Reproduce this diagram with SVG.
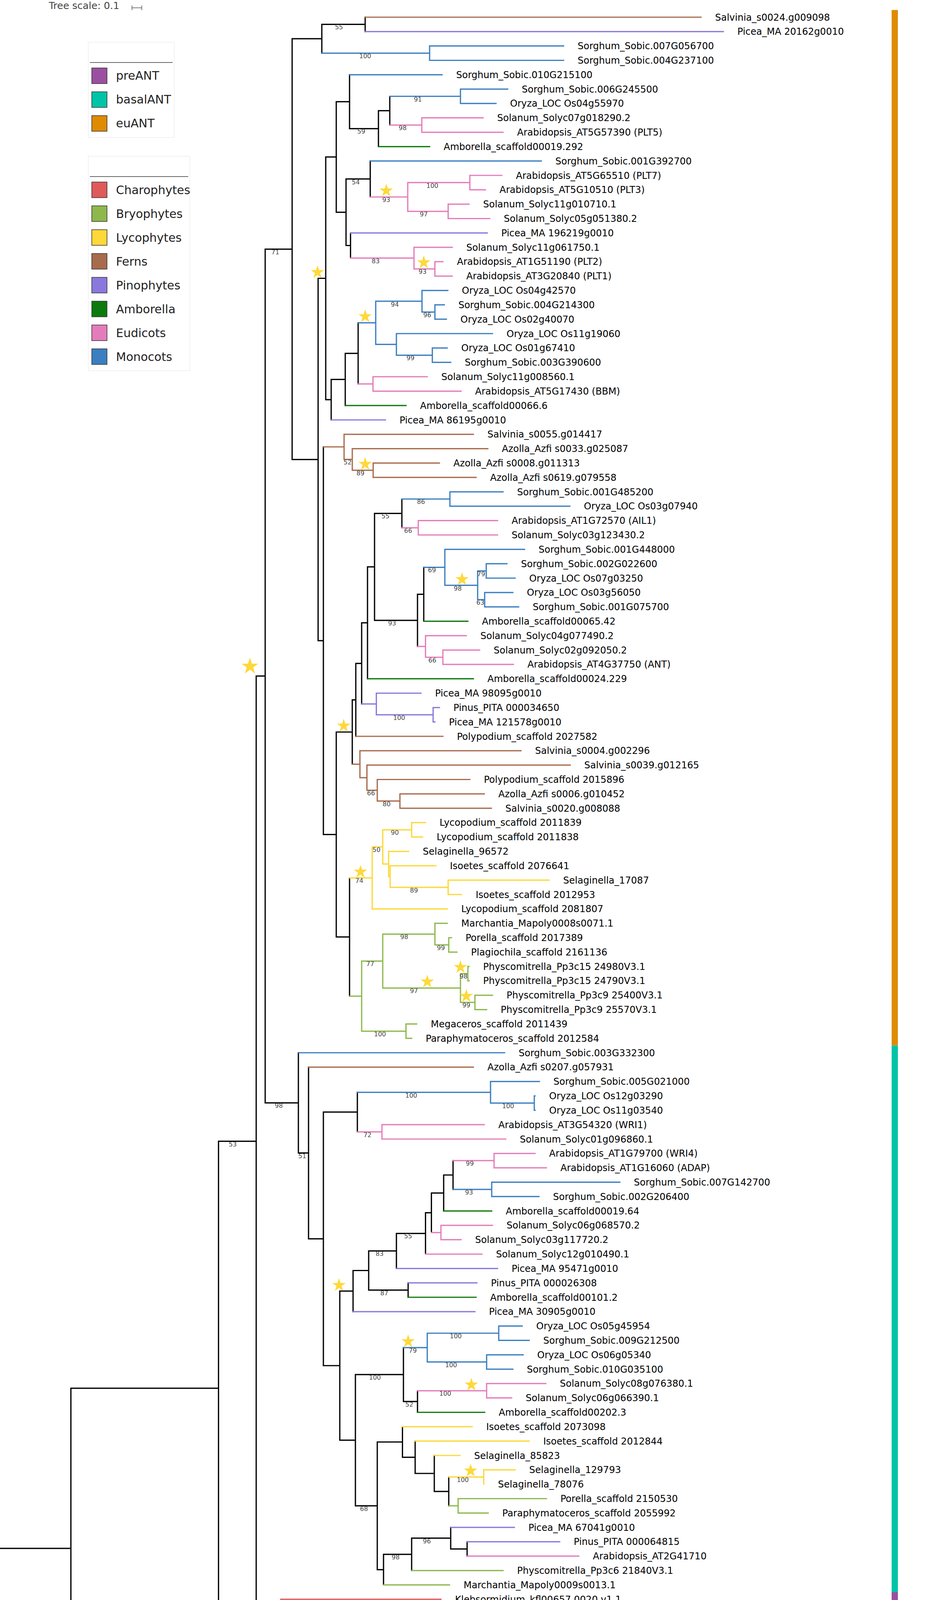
<svg xmlns="http://www.w3.org/2000/svg" xmlns:xlink="http://www.w3.org/1999/xlink" width="2371" height="4590" viewBox="0 0 2371 4590">
<style>
.b{fill:none;stroke-width:3.2;stroke-linecap:square}
.k{stroke:#000}.fe{stroke:#a86b4c}.pi{stroke:#8a78dc}.mo{stroke:#3b7fc0}.eu{stroke:#e47cbb}.am{stroke:#0c7a0c}.ly{stroke:#fcd838}.br{stroke:#8eb84c}.ch{stroke:#e05a5a}
.lab{font-family:"DejaVu Sans",Verdana,sans-serif;font-size:24px;fill:#000}
.bs{font-family:"DejaVu Sans",Verdana,sans-serif;font-size:16px;fill:#444;text-anchor:middle}
.lg{font-family:"DejaVu Sans",Verdana,sans-serif;font-size:30px;fill:#222}
.sq{stroke:#333;stroke-width:1.5}
.st{fill:#ffd83a}
</style>
<defs>
<path id="star" d="M0,-18 L4.04,-5.56 L17.12,-5.56 L6.54,2.13 L10.58,14.56 L0,6.88 L-10.58,14.56 L-6.54,2.13 L-17.12,-5.56 L-4.04,-5.56 Z"/>
</defs>
<rect width="2371" height="4590" fill="#fff"/>
<g id="tree-scale">
<text x="125" y="23" font-family="DejaVu Sans,Verdana,sans-serif" font-size="25" fill="#444">Tree scale: 0.1</text>
<path d="M338 20H363 M338 14V26 M363 14V26" stroke="#555" stroke-width="1.5" fill="none"/>
</g>
<g id="legend-clade">
<rect x="226" y="108" width="220" height="244" fill="#fff" stroke="#eee" stroke-width="1.5"/>
<path d="M230 160H442" stroke="#666" stroke-width="2"/>
<rect class="sq" x="235" y="174" width="39" height="40" fill="#9b4fa0"/><text class="lg" x="297" y="204">preANT</text>
<rect class="sq" x="235" y="235" width="39" height="40" fill="#00c4a7"/><text class="lg" x="297" y="265">basalANT</text>
<rect class="sq" x="235" y="296" width="39" height="40" fill="#df8b00"/><text class="lg" x="297" y="326">euANT</text>
</g>
<g id="legend-taxa">
<rect x="226" y="400" width="260" height="549" fill="#fff" stroke="#eee" stroke-width="1.5"/>
<path d="M230 452H482" stroke="#666" stroke-width="2"/>
<rect class="sq" x="235" y="466" width="39" height="40" fill="#e05a5a"/><text class="lg" x="297" y="497">Charophytes</text>
<rect class="sq" x="235" y="527" width="39" height="40" fill="#8eb84c"/><text class="lg" x="297" y="558">Bryophytes</text>
<rect class="sq" x="235" y="588" width="39" height="40" fill="#fcd838"/><text class="lg" x="297" y="619">Lycophytes</text>
<rect class="sq" x="235" y="649" width="39" height="40" fill="#a86b4c"/><text class="lg" x="297" y="680">Ferns</text>
<rect class="sq" x="235" y="710" width="39" height="40" fill="#8a78dc"/><text class="lg" x="297" y="741">Pinophytes</text>
<rect class="sq" x="235" y="771" width="39" height="40" fill="#0c7a0c"/><text class="lg" x="297" y="802">Amborella</text>
<rect class="sq" x="235" y="832" width="39" height="40" fill="#e47cbb"/><text class="lg" x="297" y="863">Eudicots</text>
<rect class="sq" x="235" y="893" width="39" height="40" fill="#3b7fc0"/><text class="lg" x="297" y="924">Monocots</text>
</g>
<g id="clade-strip">
<rect x="2283" y="25.6" width="16" height="2651" fill="#df8b00"/>
<rect x="2283" y="2676.6" width="16" height="1399.4" fill="#00c4a7"/>
<rect x="2283" y="4076" width="16" height="73.4" fill="#9b4fa0"/>
</g>
<g id="connectors">
<path class="b k" d="M0 3963.85H181.5 M181.5 3553.9V4373.8 M181.5 3553.9H559.5 M181.5 4373.8H559.5 M559.5 2921.6V4186.25 M559.5 2921.6H656 M559.5 4186.25H658 M658 4167.8V4204.7 M658 4204.7H1149 M656 1730.6V4112.6 M656 1730.6H679 M679 637.8V2823.35 M679 637.8H748 M679 2823.35H764 M748 99.2V1176.35 M748 99.2H824 M748 1176.35H814.5 M824 62.4V136.05 M824 62.4H935 M935 44V80.8 M814.5 712.5V1640.2 M814.5 712.5H834 M814.5 1640.2H828 M834 401.8V1023.2 M834 401.8H861 M834 1023.2H848 M861 260.3V543.35 M861 260.3H895 M861 543.35H886 M895 191.3V329.35 M895 329.35H969 M969 283.3V375.4 M969 283.3H998 M998 246.5V320.15 M886 458.2V628.5 M886 458.2H948 M886 628.5H897.5 M948 412.2V504.25 M897.5 596.3V660.7 M848 971.4V1075 M848 971.4H884 M884 904.65V1038.1 M884 904.65H917 M917 826.4V982.9 M828 1144V2136.35 M828 2136.35H861 M861 1874V2398.7 M861 1874H902 M861 2398.7H895 M902 1791.65V1956.3 M902 1791.65H911 M911 1698.3V1885 M911 1698.3H926 M926 1594.45V1802.15 M926 1594.45H941 M941 1451.2V1737.7 M941 1451.2H959 M959 1314.3V1588.15 M959 1314.3H1029 M959 1588.15H1069 M1029 1277.5V1351.1 M1069 1521.4V1654.9 M1069 1521.4H1085 M1085 1452.35V1590.4 M895 2247.4V2550.05 M764 2695V2951.7 M764 2951.7H790 M790 2731.9V3171.45 M790 3171.45H828 M828 2846.9V3496 M828 2846.9H915 M828 3496H870 M915 2796.3V2897.55 M870 3305.15V3686.9 M870 3305.15H904 M870 3686.9H910 M904 3252.5V3357.8 M904 3252.5H944 M944 3202.45V3302.6 M944 3202.45H1015 M944 3302.6H1045 M1015 3157.6V3247.3 M1015 3157.6H1089.5 M1089.5 3104.7V3210.5 M1089.5 3104.7H1104.6 M1104.6 3054.05V3155.3 M1104.6 3054.05H1136 M1136 3008V3100.1 M1136 3008H1160 M1160 2971.2V3044.8 M1045 3284.2V3321 M910 3518.9V3854.9 M910 3518.9H1033 M910 3854.9H966 M1033 3449.85V3587.9 M1033 3587.9H1069 M1069 3560.3V3615.5 M966 3691.5V4018.3 M966 3691.5H1030.5 M966 4018.3H982 M1030.5 3652.4V3730.6 M1030.5 3730.6H1063 M1063 3689.2V3772 M1063 3772H1112 M1112 3726V3818.05 M1112 3818.05H1149 M1149 3781.2V3854.9 M982 3979.15V4057.4 M982 3979.15H1054 M1054 3937.7V4020.6 M1054 3937.7H1154 M1154 3910.1V3965.3 M1154 3965.3H1196 M1196 3946.9V3983.7 M559.5 4276V4471.6 M559.5 4276H612 M559.5 4471.6H630.6 M612 4241.5V4310.5 M612 4241.5H744 M612 4310.5H665 M665 4278.3V4342.7 M665 4278.3H786 M665 4342.7H703 M703 4315.1V4370.35 M703 4315.1H759 M703 4370.35H723 M723 4351.9V4388.8 M723 4351.9H782 M723 4388.8H794 M630.6 4425.6V4517.6 M630.6 4425.6H851 M630.6 4517.6H665 M665 4480.8V4554.45 M665 4480.8H859 M665 4554.45H832 M859 4462.4V4499.2 M859 4462.4H877 M859 4499.2H885 M832 4536V4572.9 M832 4536H847 M832 4572.9H854"/>
<path class="b ch" d="M658 4167.8H1060 M656 4112.6H719 M719 4094.2V4131 M719 4094.2H1129 M719 4131H1156"/>
<path class="b fe" d="M935 44H1795 M828 1144H881 M881 1111.8V1176.2 M881 1111.8H1212 M881 1176.2H902 M902 1148.6V1203.8 M902 1148.6H1249 M902 1203.8H955.5 M955.5 1185.4V1222.2 M955.5 1185.4H1125 M955.5 1222.2H1219 M902 1956.3H921.6 M911 1885H1134 M921.6 1921.8V1990.85 M921.6 1921.8H1334 M921.6 1990.85H939.5 M939.5 1958.6V2023.1 M939.5 1958.6H1460 M939.5 2023.1H966 M966 1995.5V2050.7 M966 1995.5H1203 M966 2050.7H1024 M1024 2032.3V2069.1 M1024 2032.3H1240 M1024 2069.1H1258 M790 2731.9H1212"/>
<path class="b pi" d="M935 80.8H1852 M897.5 596.3H1247.5 M848 1075H987 M926 1802.15H963.6 M963.6 1774.5V1829.8 M963.6 1774.5H1078 M963.6 1829.8H1109 M1109 1811.4V1848.2 M1109 1811.4H1125 M1109 1848.2H1113.6 M904 3357.8H1216 M1015 3247.3H1274 M1045 3284.2H1221 M1154 3910.1H1317 M1196 3946.9H1433"/>
<path class="b mo" d="M824 136.05H1100 M1100 117.6V154.5 M1100 117.6H1443 M1100 154.5H1443 M895 191.3H1132 M998 246.5H1179 M1179 228.1V264.9 M1179 228.1H1300 M1179 264.9H1270 M948 412.2H1386 M917 826.4H962 M962 771.2V881.65 M962 771.2H1080.5 M962 881.65H1015 M1080.5 743.6V798.8 M1080.5 743.6H1146.6 M1080.5 798.8H1113.6 M1113.6 780.4V817.2 M1113.6 780.4H1137.7 M1113.6 817.2H1143 M1015 854V909.3 M1015 854H1261 M1015 909.3H1107 M1107 890.9V927.7 M1107 890.9H1145 M1107 927.7H1154 M1029 1277.5H1152 M1152 1259.1V1295.9 M1152 1259.1H1288 M1152 1295.9H1459 M1085 1452.35H1139 M1139 1406.3V1498.4 M1139 1406.3H1343 M1139 1498.4H1223 M1223 1461.6V1535.2 M1223 1461.6H1245 M1223 1535.2H1241 M1245 1443.2V1480 M1245 1443.2H1298 M1245 1480H1319 M1241 1516.8V1553.6 M1241 1516.8H1313 M1241 1553.6H1328 M764 2695H1292 M915 2796.3H1256 M1256 2768.7V2823.9 M1256 2768.7H1381 M1256 2823.9H1368 M1368 2805.5V2842.3 M1368 2805.5H1370 M1368 2842.3H1370 M1160 3044.8H1259 M1259 3026.4V3063.2 M1259 3026.4H1587 M1259 3063.2H1380 M1033 3449.85H1094 M1094 3413V3486.7 M1094 3413H1277 M1094 3486.7H1246 M1277 3394.6V3431.4 M1277 3394.6H1337 M1277 3431.4H1355 M1246 3468.3V3505.1 M1246 3468.3H1339.5 M1246 3505.1H1313"/>
<path class="b eu" d="M998 320.15H1080 M1080 301.7V338.6 M1080 301.7H1237 M1080 338.6H1288 M948 504.25H1044 M1044 467.4V541.1 M1044 467.4H1203 M1044 541.1H1147.5 M1203 449V485.8 M1203 449H1285 M1203 485.8H1243 M1147.5 522.7V559.5 M1147.5 522.7H1201 M1147.5 559.5H1254 M897.5 660.7H1060 M1060 633.1V688.35 M1060 633.1H1158 M1060 688.35H1113.5 M1113.5 669.9V706.8 M1113.5 669.9H1134 M1113.5 706.8H1158 M917 982.9H955 M955 964.5V1001.3 M955 964.5H1094 M955 1001.3H1180.5 M1029 1351.1H1071 M1071 1332.7V1369.5 M1071 1332.7H1274 M1071 1369.5H1274 M1069 1654.9H1089.5 M1089.5 1627.3V1682.5 M1089.5 1627.3H1194 M1089.5 1682.5H1134 M1134 1664.1V1700.9 M1134 1664.1H1228 M1134 1700.9H1314.5 M915 2897.55H978 M978 2879.1V2916 M978 2879.1H1240 M978 2916H1295 M1160 2971.2H1265 M1265 2952.8V2989.6 M1265 2952.8H1370 M1265 2989.6H1399 M1104.6 3155.3H1129 M1129 3136.9V3173.7 M1129 3136.9H1261 M1129 3173.7H1180.5 M1089.5 3210.5H1234 M1069 3560.3H1246 M1246 3541.9V3578.7 M1246 3541.9H1397.5 M1246 3578.7H1310 M1196 3983.7H1482"/>
<path class="b am" d="M969 375.4H1100 M884 1038.1H1039.5 M941 1737.7H1212 M1085 1590.4H1198 M1136 3100.1H1259 M1045 3321H1219 M1069 3615.5H1241"/>
<path class="b ly" d="M895 2247.4H953 M953 2168.05V2326.8 M953 2168.05H980 M953 2326.8H1145 M980 2124.3V2211.8 M980 2124.3H1054 M980 2211.8H995 M1054 2105.9V2142.7 M1054 2105.9H1089.5 M1054 2142.7H1082 M995 2179.6V2244 M995 2179.6H1046.6 M995 2244H999 M999 2216.4V2271.6 M999 2216.4H1116 M999 2271.6H1147.5 M1147.5 2253.2V2290 M1147.5 2253.2H1406 M1147.5 2290H1182 M1030.5 3652.4H1209 M1063 3689.2H1355 M1112 3726H1178 M1149 3781.2H1238.6 M1238.6 3762.8V3799.6 M1238.6 3762.8H1319"/>
<path class="b br" d="M895 2550.05H926 M926 2460.3V2639.8 M926 2460.3H980 M926 2639.8H1039.5 M980 2391.3V2529.35 M980 2391.3H1113.6 M980 2529.35H1179 M1113.6 2363.7V2418.9 M1113.6 2363.7H1145 M1113.6 2418.9H1149 M1149 2400.5V2437.3 M1149 2400.5H1156 M1149 2437.3H1170 M1179 2492.5V2566.2 M1179 2492.5H1198 M1179 2566.2H1216 M1198 2474.1V2510.9 M1198 2474.1H1201 M1198 2510.9H1201 M1216 2547.8V2584.6 M1216 2547.8H1261 M1216 2584.6H1246 M1039.5 2621.4V2658.2 M1039.5 2621.4H1067 M1039.5 2658.2H1054 M1149 3854.9H1173 M1173 3836.5V3873.3 M1173 3836.5H1399 M1173 3873.3H1250 M982 4057.4H1151 M1054 4020.6H1288"/>
</g>
<g id="stars" class="st">
<use xlink:href="#star" x="989" y="488"/>
<use xlink:href="#star" x="1085" y="672"/>
<use xlink:href="#star" x="813" y="697"/>
<use xlink:href="#star" x="935" y="810"/>
<use xlink:href="#star" x="935" y="1188"/>
<use xlink:href="#star" x="1183" y="1483"/>
<use xlink:href="#star" transform="translate(640 1706) scale(1.25)"/>
<use xlink:href="#star" x="880" y="1858"/>
<use xlink:href="#star" x="923" y="2232"/>
<use xlink:href="#star" x="1094" y="2513"/>
<use xlink:href="#star" x="1179" y="2476"/>
<use xlink:href="#star" x="1194" y="2550"/>
<use xlink:href="#star" x="868" y="3290"/>
<use xlink:href="#star" x="1045" y="3434"/>
<use xlink:href="#star" x="1207" y="3545"/>
<use xlink:href="#star" x="1205" y="3765"/>
</g>
<g id="support" class="bs">
<text x="868" y="75">55</text><text x="935" y="149">100</text><text x="1070" y="260">91</text><text x="1031" y="333">98</text><text x="925" y="342">59</text>
<text x="911" y="472">54</text><text x="989" y="517">93</text><text x="1107" y="481">100</text><text x="1085" y="554">97</text><text x="705" y="651">71</text>
<text x="962" y="674">83</text><text x="1082" y="701">93</text><text x="1011" y="785">94</text><text x="1094" y="812">96</text><text x="1051" y="922">99</text>
<text x="890" y="1189">52</text><text x="923" y="1217">89</text><text x="1078" y="1290">86</text><text x="987" y="1327">55</text><text x="1045" y="1364">66</text>
<text x="1106" y="1465">69</text><text x="1232" y="1475">79</text><text x="1172" y="1512">98</text><text x="1230" y="1548">63</text><text x="1004" y="1601">93</text>
<text x="1107" y="1696">66</text><text x="1022" y="1843">100</text><text x="950" y="2036">66</text><text x="990" y="2064">80</text><text x="1011" y="2137">90</text>
<text x="964" y="2181">50</text><text x="920" y="2260">74</text><text x="1060" y="2285">89</text><text x="1035" y="2404">98</text><text x="1129" y="2432">99</text>
<text x="948" y="2473">77</text><text x="1187" y="2505">98</text><text x="1060" y="2542">97</text><text x="1194" y="2579">99</text><text x="973" y="2653">100</text>
<text x="1053" y="2810">100</text><text x="1301" y="2837">100</text><text x="714" y="2836">98</text><text x="941" y="2911">72</text><text x="596" y="2935">53</text>
<text x="774" y="2965">51</text><text x="1203" y="2984">99</text><text x="1201" y="3058">93</text><text x="1045" y="3170">55</text><text x="972" y="3215">83</text>
<text x="984" y="3316">87</text><text x="1167" y="3426">100</text><text x="1057" y="3463">79</text><text x="1155" y="3500">100</text><text x="960" y="3532">100</text>
<text x="1140" y="3573">100</text><text x="1048" y="3601">52</text><text x="1185" y="3794">100</text><text x="932" y="3868">68</text><text x="1093" y="3951">96</text>
<text x="1013" y="3992">98</text><text x="680" y="4126">55</text><text x="597" y="4199">60</text><text x="579" y="4289">74</text><text x="635" y="4324">59</text>
<text x="680" y="4357">95</text><text x="711" y="4383">96</text><text x="330" y="4387">100</text><text x="587" y="4485">64</text><text x="647" y="4530">68</text>
<text x="744" y="4494">100</text><text x="733" y="4567">100</text>
</g>
<g id="leaves" class="lab">
<g id="n001"><text x="1831" y="52.5">Salvinia_s0024.g009098</text></g>
<g id="n002"><text x="1888" y="89.3">Picea_MA 20162g0010</text></g>
<g id="n003"><text x="1479" y="126.1">Sorghum_Sobic.007G056700</text></g>
<g id="n004"><text x="1479" y="163">Sorghum_Sobic.004G237100</text></g>
<g id="n005"><text x="1168" y="199.8">Sorghum_Sobic.010G215100</text></g>
<g id="n006"><text x="1336" y="236.6">Sorghum_Sobic.006G245500</text></g>
<g id="n007"><text x="1306" y="273.4">Oryza_LOC Os04g55970</text></g>
<g id="n008"><text x="1273" y="310.2">Solanum_Solyc07g018290.2</text></g>
<g id="n009"><text x="1324" y="347.1">Arabidopsis_AT5G57390 (PLT5)</text></g>
<g id="n010"><text x="1136" y="383.9">Amborella_scaffold00019.292</text></g>
<g id="n011"><text x="1422" y="420.7">Sorghum_Sobic.001G392700</text></g>
<g id="n012"><text x="1321" y="457.5">Arabidopsis_AT5G65510 (PLT7)</text></g>
<g id="n013"><text x="1279" y="494.3">Arabidopsis_AT5G10510 (PLT3)</text></g>
<g id="n014"><text x="1237" y="531.2">Solanum_Solyc11g010710.1</text></g>
<g id="n015"><text x="1290" y="568">Solanum_Solyc05g051380.2</text></g>
<g id="n016"><text x="1283.5" y="604.8">Picea_MA 196219g0010</text></g>
<g id="n017"><text x="1194" y="641.6">Solanum_Solyc11g061750.1</text></g>
<g id="n018"><text x="1170" y="678.4">Arabidopsis_AT1G51190 (PLT2)</text></g>
<g id="n019"><text x="1194" y="715.3">Arabidopsis_AT3G20840 (PLT1)</text></g>
<g id="n020"><text x="1182.6" y="752.1">Oryza_LOC Os04g42570</text></g>
<g id="n021"><text x="1173.7" y="788.9">Sorghum_Sobic.004G214300</text></g>
<g id="n022"><text x="1179" y="825.7">Oryza_LOC Os02g40070</text></g>
<g id="n023"><text x="1297" y="862.5">Oryza_LOC Os11g19060</text></g>
<g id="n024"><text x="1181" y="899.4">Oryza_LOC Os01g67410</text></g>
<g id="n025"><text x="1190" y="936.2">Sorghum_Sobic.003G390600</text></g>
<g id="n026"><text x="1130" y="973">Solanum_Solyc11g008560.1</text></g>
<g id="n027"><text x="1216.5" y="1009.8">Arabidopsis_AT5G17430 (BBM)</text></g>
<g id="n028"><text x="1075.5" y="1046.6">Amborella_scaffold00066.6</text></g>
<g id="n029"><text x="1023" y="1083.5">Picea_MA 86195g0010</text></g>
<g id="n030"><text x="1248" y="1120.3">Salvinia_s0055.g014417</text></g>
<g id="n031"><text x="1285" y="1157.1">Azolla_Azfi s0033.g025087</text></g>
<g id="n032"><text x="1161" y="1193.9">Azolla_Azfi s0008.g011313</text></g>
<g id="n033"><text x="1255" y="1230.7">Azolla_Azfi s0619.g079558</text></g>
<g id="n034"><text x="1324" y="1267.6">Sorghum_Sobic.001G485200</text></g>
<g id="n035"><text x="1495" y="1304.4">Oryza_LOC Os03g07940</text></g>
<g id="n036"><text x="1310" y="1341.2">Arabidopsis_AT1G72570 (AIL1)</text></g>
<g id="n037"><text x="1310" y="1378">Solanum_Solyc03g123430.2</text></g>
<g id="n038"><text x="1379" y="1414.8">Sorghum_Sobic.001G448000</text></g>
<g id="n039"><text x="1334" y="1451.7">Sorghum_Sobic.002G022600</text></g>
<g id="n040"><text x="1355" y="1488.5">Oryza_LOC Os07g03250</text></g>
<g id="n041"><text x="1349" y="1525.3">Oryza_LOC Os03g56050</text></g>
<g id="n042"><text x="1364" y="1562.1">Sorghum_Sobic.001G075700</text></g>
<g id="n043"><text x="1234" y="1598.9">Amborella_scaffold00065.42</text></g>
<g id="n044"><text x="1230" y="1635.8">Solanum_Solyc04g077490.2</text></g>
<g id="n045"><text x="1264" y="1672.6">Solanum_Solyc02g092050.2</text></g>
<g id="n046"><text x="1350.5" y="1709.4">Arabidopsis_AT4G37750 (ANT)</text></g>
<g id="n047"><text x="1248" y="1746.2">Amborella_scaffold00024.229</text></g>
<g id="n048"><text x="1114" y="1783">Picea_MA 98095g0010</text></g>
<g id="n049"><text x="1161" y="1819.9">Pinus_PITA 000034650</text></g>
<g id="n050"><text x="1149.6" y="1856.7">Picea_MA 121578g0010</text></g>
<g id="n051"><text x="1170" y="1893.5">Polypodium_scaffold 2027582</text></g>
<g id="n052"><text x="1370" y="1930.3">Salvinia_s0004.g002296</text></g>
<g id="n053"><text x="1496" y="1967.1">Salvinia_s0039.g012165</text></g>
<g id="n054"><text x="1239" y="2004">Polypodium_scaffold 2015896</text></g>
<g id="n055"><text x="1276" y="2040.8">Azolla_Azfi s0006.g010452</text></g>
<g id="n056"><text x="1294" y="2077.6">Salvinia_s0020.g008088</text></g>
<g id="n057"><text x="1125.5" y="2114.4">Lycopodium_scaffold 2011839</text></g>
<g id="n058"><text x="1118" y="2151.2">Lycopodium_scaffold 2011838</text></g>
<g id="n059"><text x="1082.6" y="2188.1">Selaginella_96572</text></g>
<g id="n060"><text x="1152" y="2224.9">Isoetes_scaffold 2076641</text></g>
<g id="n061"><text x="1442" y="2261.7">Selaginella_17087</text></g>
<g id="n062"><text x="1218" y="2298.5">Isoetes_scaffold 2012953</text></g>
<g id="n063"><text x="1181" y="2335.3">Lycopodium_scaffold 2081807</text></g>
<g id="n064"><text x="1181" y="2372.2">Marchantia_Mapoly0008s0071.1</text></g>
<g id="n065"><text x="1192" y="2409">Porella_scaffold 2017389</text></g>
<g id="n066"><text x="1206" y="2445.8">Plagiochila_scaffold 2161136</text></g>
<g id="n067"><text x="1237" y="2482.6">Physcomitrella_Pp3c15 24980V3.1</text></g>
<g id="n068"><text x="1237" y="2519.4">Physcomitrella_Pp3c15 24790V3.1</text></g>
<g id="n069"><text x="1297" y="2556.3">Physcomitrella_Pp3c9 25400V3.1</text></g>
<g id="n070"><text x="1282" y="2593.1">Physcomitrella_Pp3c9 25570V3.1</text></g>
<g id="n071"><text x="1103" y="2629.9">Megaceros_scaffold 2011439</text></g>
<g id="n072"><text x="1090" y="2666.7">Paraphymatoceros_scaffold 2012584</text></g>
<g id="n073"><text x="1328" y="2703.5">Sorghum_Sobic.003G332300</text></g>
<g id="n074"><text x="1248" y="2740.4">Azolla_Azfi s0207.g057931</text></g>
<g id="n075"><text x="1417" y="2777.2">Sorghum_Sobic.005G021000</text></g>
<g id="n076"><text x="1406" y="2814">Oryza_LOC Os12g03290</text></g>
<g id="n077"><text x="1406" y="2850.8">Oryza_LOC Os11g03540</text></g>
<g id="n078"><text x="1276" y="2887.6">Arabidopsis_AT3G54320 (WRI1)</text></g>
<g id="n079"><text x="1331" y="2924.5">Solanum_Solyc01g096860.1</text></g>
<g id="n080"><text x="1406" y="2961.3">Arabidopsis_AT1G79700 (WRI4)</text></g>
<g id="n081"><text x="1435" y="2998.1">Arabidopsis_AT1G16060 (ADAP)</text></g>
<g id="n082"><text x="1623" y="3034.9">Sorghum_Sobic.007G142700</text></g>
<g id="n083"><text x="1416" y="3071.7">Sorghum_Sobic.002G206400</text></g>
<g id="n084"><text x="1295" y="3108.6">Amborella_scaffold00019.64</text></g>
<g id="n085"><text x="1297" y="3145.4">Solanum_Solyc06g068570.2</text></g>
<g id="n086"><text x="1216.5" y="3182.2">Solanum_Solyc03g117720.2</text></g>
<g id="n087"><text x="1270" y="3219">Solanum_Solyc12g010490.1</text></g>
<g id="n088"><text x="1310" y="3255.8">Picea_MA 95471g0010</text></g>
<g id="n089"><text x="1257" y="3292.7">Pinus_PITA 000026308</text></g>
<g id="n090"><text x="1255" y="3329.5">Amborella_scaffold00101.2</text></g>
<g id="n091"><text x="1252" y="3366.3">Picea_MA 30905g0010</text></g>
<g id="n092"><text x="1373" y="3403.1">Oryza_LOC Os05g45954</text></g>
<g id="n093"><text x="1391" y="3439.9">Sorghum_Sobic.009G212500</text></g>
<g id="n094"><text x="1375.5" y="3476.8">Oryza_LOC Os06g05340</text></g>
<g id="n095"><text x="1349" y="3513.6">Sorghum_Sobic.010G035100</text></g>
<g id="n096"><text x="1433.5" y="3550.4">Solanum_Solyc08g076380.1</text></g>
<g id="n097"><text x="1346" y="3587.2">Solanum_Solyc06g066390.1</text></g>
<g id="n098"><text x="1277" y="3624">Amborella_scaffold00202.3</text></g>
<g id="n099"><text x="1245" y="3660.9">Isoetes_scaffold 2073098</text></g>
<g id="n100"><text x="1391" y="3697.7">Isoetes_scaffold 2012844</text></g>
<g id="n101"><text x="1214" y="3734.5">Selaginella_85823</text></g>
<g id="n102"><text x="1355" y="3771.3">Selaginella_129793</text></g>
<g id="n103"><text x="1275" y="3808.1">Selaginella_78076</text></g>
<g id="n104"><text x="1435" y="3845">Porella_scaffold 2150530</text></g>
<g id="n105"><text x="1286" y="3881.8">Paraphymatoceros_scaffold 2055992</text></g>
<g id="n106"><text x="1353" y="3918.6">Picea_MA 67041g0010</text></g>
<g id="n107"><text x="1469" y="3955.4">Pinus_PITA 000064815</text></g>
<g id="n108"><text x="1518" y="3992.2">Arabidopsis_AT2G41710</text></g>
<g id="n109"><text x="1324" y="4029.1">Physcomitrella_Pp3c6 21840V3.1</text></g>
<g id="n110"><text x="1187" y="4065.9">Marchantia_Mapoly0009s0013.1</text></g>
<g id="n111"><text x="1165" y="4102.7">Klebsormidium_kfl00657 0020 v1.1</text></g>
<g id="n112"><text x="1192" y="4139.5">Mesotaenium_scaffold 2009335</text></g>
<g id="n113"><text x="1096" y="4176.3">Chlorokybus_S04TR2468</text></g>
<g id="n114"><text x="1185" y="4213.2">Chlamydomonas_Cre16.g667900.t1.1</text></g>
<g id="n115"><text x="780" y="4250">Amborella_scaffold00035.43</text></g>
<g id="n116"><text x="822" y="4286.8">Arabidopsis_AT4G36920.1 (AP2)</text></g>
<g id="n117"><text x="795" y="4323.6">Solanum_Solyc03g044300.2</text></g>
<g id="n118"><text x="818" y="4360.4">Solanum_Solyc03g093150.2</text></g>
<g id="n119"><text x="830" y="4397.3">Solanum_Solyc02g064960.2</text></g>
<g id="n120"><text x="887" y="4434.1">Picea_MA 10434312g0010</text></g>
<g id="n121"><text x="913" y="4470.9">Picea_MA 130948g0020</text></g>
<g id="n122"><text x="921" y="4507.7">Pinus_PITA 000055560</text></g>
<g id="n123"><text x="883" y="4544.5">Picea_MA 2193g0020</text></g>
<g id="n124"><text x="890" y="4581.4">Pinus_PITA 000008305</text></g>
</g>
<g id="outgroup-label">
<text x="1936" y="4377" font-family="DejaVu Sans,Verdana,sans-serif" font-size="50" fill="#1a1a9a">AP2</text>
</g>
</svg>
